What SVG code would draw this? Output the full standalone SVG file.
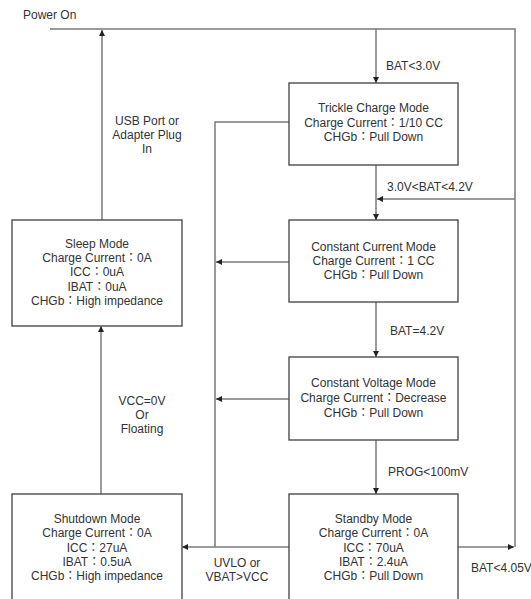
<svg xmlns="http://www.w3.org/2000/svg" width="531" height="599" viewBox="0 0 531 599">
<style>
.box{fill:#fff;stroke:#4d4d4d;stroke-width:1.4}
.ln{fill:none;stroke:#7a7a7a;stroke-width:1.5}
text{font-family:"Liberation Sans",Arial,"Noto Sans CJK JP",sans-serif;font-size:12px;fill:#333}
.c{text-anchor:middle}
</style>
<defs>
<marker id="ah" markerUnits="userSpaceOnUse" markerWidth="7" markerHeight="6" refX="6" refY="3" orient="auto">
<path d="M0,0 L6,3 L0,6 z" fill="#222"/>
</marker>
</defs>
<rect width="531" height="599" fill="#fff"/>
<g id="connectors">
<path class="ln" d="M50,29 H515 V547"/>
<path class="ln" d="M458,547 H514" marker-end="url(#ah)"/>
<path class="ln" d="M376,29 V83" marker-end="url(#ah)"/>
<path class="ln" d="M515,199 H377" marker-end="url(#ah)"/>
<path class="ln" d="M376,165 V220" marker-end="url(#ah)"/>
<path class="ln" d="M376,302 V357" marker-end="url(#ah)"/>
<path class="ln" d="M376,440 V494" marker-end="url(#ah)"/>
<path class="ln" d="M102,220 V30" marker-end="url(#ah)"/>
<path class="ln" d="M101,494 V326" marker-end="url(#ah)"/>
<path class="ln" d="M289,122 H215 V547"/>
<path class="ln" d="M289,262 H216" marker-end="url(#ah)"/>
<path class="ln" d="M289,399 H216" marker-end="url(#ah)"/>
<path class="ln" d="M289,547 H182" marker-end="url(#ah)"/>
<text x="23" y="19">Power On</text>
<text x="386" y="70">BAT&lt;3.0V</text>
<text class="c" x="147" y="125">USB Port or</text>
<text class="c" x="147" y="139">Adapter Plug</text>
<text class="c" x="147" y="153">In</text>
<text x="387" y="191">3.0V&lt;BAT&lt;4.2V</text>
<text x="390" y="335">BAT=4.2V</text>
<text x="388" y="476">PROG&lt;100mV</text>
<text x="471" y="572">BAT&lt;4.05V</text>
<text class="c" x="142" y="405">VCC=0V</text>
<text class="c" x="142" y="419">Or</text>
<text class="c" x="142" y="433">Floating</text>
<text class="c" x="237" y="567">UVLO or</text>
<text class="c" x="237" y="581">VBAT&gt;VCC</text>
</g>
<g id="trickle">
<rect class="box" x="289" y="83" width="169" height="82"/>
<text class="c" x="373.5" y="112">Trickle Charge Mode</text>
<text class="c" x="373.5" y="127">Charge Current：1/10 CC</text>
<text class="c" x="373.5" y="141">CHGb：Pull Down</text>
</g>
<g id="cc">
<rect class="box" x="289" y="220" width="169" height="82"/>
<text class="c" x="373.5" y="251">Constant Current Mode</text>
<text class="c" x="373.5" y="265">Charge Current：1 CC</text>
<text class="c" x="373.5" y="279">CHGb：Pull Down</text>
</g>
<g id="cv">
<rect class="box" x="289" y="357" width="169" height="83"/>
<text class="c" x="373.5" y="387">Constant Voltage Mode</text>
<text class="c" x="373.5" y="402">Charge Current：Decrease</text>
<text class="c" x="373.5" y="417">CHGb：Pull Down</text>
</g>
<g id="standby">
<rect class="box" x="289" y="494" width="169" height="112"/>
<text class="c" x="373.5" y="523">Standby Mode</text>
<text class="c" x="373.5" y="537">Charge Current：0A</text>
<text class="c" x="373.5" y="552">ICC：70uA</text>
<text class="c" x="373.5" y="566">IBAT：2.4uA</text>
<text class="c" x="373.5" y="580">CHGb：Pull Down</text>
</g>
<g id="sleep">
<rect class="box" x="12" y="220" width="170" height="106"/>
<text class="c" x="97" y="248">Sleep Mode</text>
<text class="c" x="97" y="262">Charge Current：0A</text>
<text class="c" x="97" y="276">ICC：0uA</text>
<text class="c" x="97" y="291">IBAT：0uA</text>
<text class="c" x="97" y="305">CHGb：High impedance</text>
</g>
<g id="shutdown">
<rect class="box" x="12" y="494" width="170" height="112"/>
<text class="c" x="97" y="523">Shutdown Mode</text>
<text class="c" x="97" y="537">Charge Current：0A</text>
<text class="c" x="97" y="552">ICC：27uA</text>
<text class="c" x="97" y="566">IBAT：0.5uA</text>
<text class="c" x="97" y="580">CHGb：High impedance</text>
</g>
</svg>
